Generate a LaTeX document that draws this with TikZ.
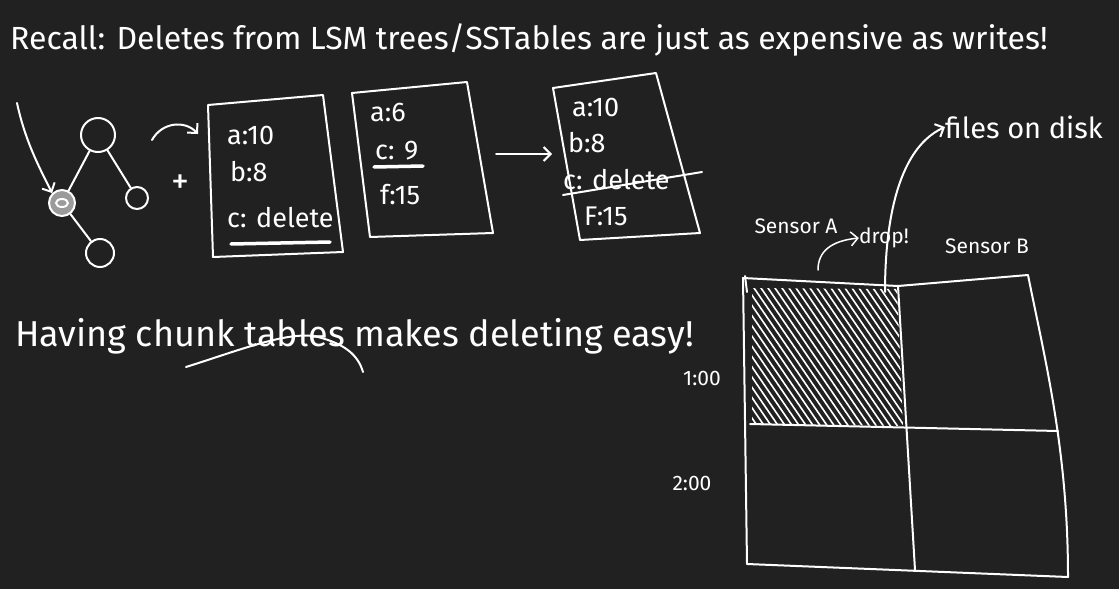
\documentclass[tikz,border=0pt]{standalone}
\usepackage{fontspec}
\setmainfont{Fira Sans}
\usetikzlibrary{arrows.meta}
\definecolor{board}{RGB}{33,33,33}
\tikzset{
  chalk/.style={draw=white, line width=2pt, line cap=round, line join=round},
  chalkarrow/.style={chalk, -{Straight Barb[length=7pt,width=14pt]}},
  scrawl/.style={text=white, inner sep=0pt},
  big/.style={scrawl, font=\fontsize{32}{37}\selectfont},
  mid/.style={scrawl, font=\fontsize{27}{32}\selectfont},
  small/.style={scrawl, font=\fontsize{21}{25}\selectfont},
  hatchline/.style={draw=white, line width=1.6pt, line cap=round},
}

\begin{document}
\begin{tikzpicture}[x=1pt, y=-1pt]
        \fill[board] (0,0) rectangle (1119,589);
        \useasboundingbox (0,0) rectangle (1119,589);

        % Title
        \node[big, anchor=west] (title) at (10,40) {Recall: Deletes from LSM trees/SSTables are just as expensive as writes!};

        % Tree
        \node[chalk, circle, minimum size=34pt, inner sep=0pt] (root) at (98,135) {};
        \node[chalk, circle, minimum size=26pt, inner sep=0pt, fill=white!55!board] (leftn) at (62,203) {};
        \node[chalk, circle, minimum size=22pt, inner sep=0pt] (rightn) at (137,198) {};
        \node[chalk, circle, minimum size=28pt, inner sep=0pt] (bottomn) at (100,253) {};
        \draw[chalk] (leftn.center) ellipse (6pt and 4pt);
        \draw[chalk] (root) -- (leftn);
        \draw[chalk] (root) -- (rightn);
        \draw[chalk] (leftn) -- (bottomn);

        \coordinate (incoming) at (17,103);
        \draw[chalkarrow] (incoming) .. controls (25,140) and (38,165) .. (leftn.135);

        % Flush arrow and plus
        \coordinate (flushA) at (152,140);
        \coordinate (flushB) at (198,134);
        \draw[chalkarrow] (flushA) .. controls (162,122) and (185,120) .. (flushB);
        \node[scrawl, font=\fontsize{36}{40}\selectfont] (plus) at (180,184) {+};

        % SSTable 1
        \coordinate (boxA1) at (208,105);
        \coordinate (boxA2) at (323,95);
        \coordinate (boxA3) at (343,252);
        \coordinate (boxA4) at (213,257);
        \draw[chalk] (boxA1) -- (boxA2) -- (boxA3) -- (boxA4) -- cycle;
        \node[mid, anchor=west] (tA1) at (227,135) {a:10};
        \node[mid, anchor=west] (tA2) at (230,172) {b:8};
        \node[mid, anchor=west] (tA3) at (227,218) {c: delete};
        \draw[chalk, line width=3.5pt] (231,244) -- (330,242);

        % SSTable 2
        \coordinate (boxB1) at (352,93);
        \coordinate (boxB2) at (467,82);
        \coordinate (boxB3) at (493,233);
        \coordinate (boxB4) at (370,237);
        \draw[chalk] (boxB1) -- (boxB2) -- (boxB3) -- (boxB4) -- cycle;
        \node[mid, anchor=west] (tB1) at (370,112) {a:6};
        \node[mid, anchor=west] (tB2) at (375,151) {c: 9};
        \draw[chalk, line width=3.5pt] (374,167) -- (423,166);
        \node[mid, anchor=west] (tB3) at (380,195) {f:15};

        % Merge arrow
        \coordinate (mergeA) at (496,154);
        \coordinate (mergeB) at (552,154);
        \draw[chalkarrow] (mergeA) -- (mergeB);

        % Merged SSTable
        \coordinate (boxC1) at (553,88);
        \coordinate (boxC2) at (656,73);
        \coordinate (boxC3) at (700,233);
        \coordinate (boxC4) at (580,240);
        \draw[chalk] (boxC1) -- (boxC2) -- (boxC3) -- (boxC4) -- cycle;
        \node[mid, anchor=west] (tC1) at (572,107) {a:10};
        \node[mid, anchor=west] (tC2) at (568,143) {b:8};
        \node[mid, anchor=west] (tC3) at (563,180) {c: delete};
        \draw[chalk] (563,195) -- (702,172);
        \node[mid, anchor=west] (tC4) at (584,216) {F:15};

        % Second sentence
        \node[scrawl, font=\fontsize{36}{41}\selectfont, anchor=west] (having) at (15,336) {Having chunk tables makes deleting easy!};
        \draw[chalk] (186,367) .. controls (240,350) and (290,330) .. (318,337) .. controls (345,344) and (358,355) .. (363,372);

        % Chunk grid
        \coordinate (gTL) at (743,278);
        \coordinate (gTM) at (898,286);
        \coordinate (gTR) at (1028,275);
        \coordinate (gBR) at (1068,577);
        \coordinate (gBL) at (747,564);
        \coordinate (gML) at (750,424);
        \coordinate (gMR) at (1058,431);
        \coordinate (gBM) at (915,570);
        \begin{scope}
          \clip (752,288) -- (897,289) -- (903,426) -- (752,424) -- cycle;
          \foreach \x in {560,567,...,910}
            \draw[hatchline] (\x,250) -- ++(130,190);
        \end{scope}
        \draw[chalk] (gTL) -- (gTM) -- (gTR) .. controls (1045,360) and (1068,450) .. (gBR) -- (gBL) -- cycle;
        \draw[chalk] (gTM) -- (gBM);
        \draw[chalk] (gML) -- (gMR);
        \draw[chalk] (745,276) -- (747,292);

        % Grid labels
        \node[small] (hour1) at (702,378) {1:00};
        \node[small] (hour2) at (692,483) {2:00};
        \node[small] (sensA) at (796,226) {Sensor A};
        \node[small] (dropl) at (884,238) {drop!};
        \node[small] (sensB) at (987,246) {Sensor B};
        \node[scrawl, font=\fontsize{29}{34}\selectfont] (files) at (1024,127) {files on disk};

        \coordinate (dropfrom) at (818,270);
        \draw[chalkarrow, line width=1.5pt] (dropfrom) .. controls (818,252) and (830,241) .. (dropl.west);

        \coordinate (gridtop) at (885,292);
        \draw[chalkarrow] (gridtop) .. controls (885,230) and (895,150) .. (files.west);

    \end{tikzpicture}
\end{document}
